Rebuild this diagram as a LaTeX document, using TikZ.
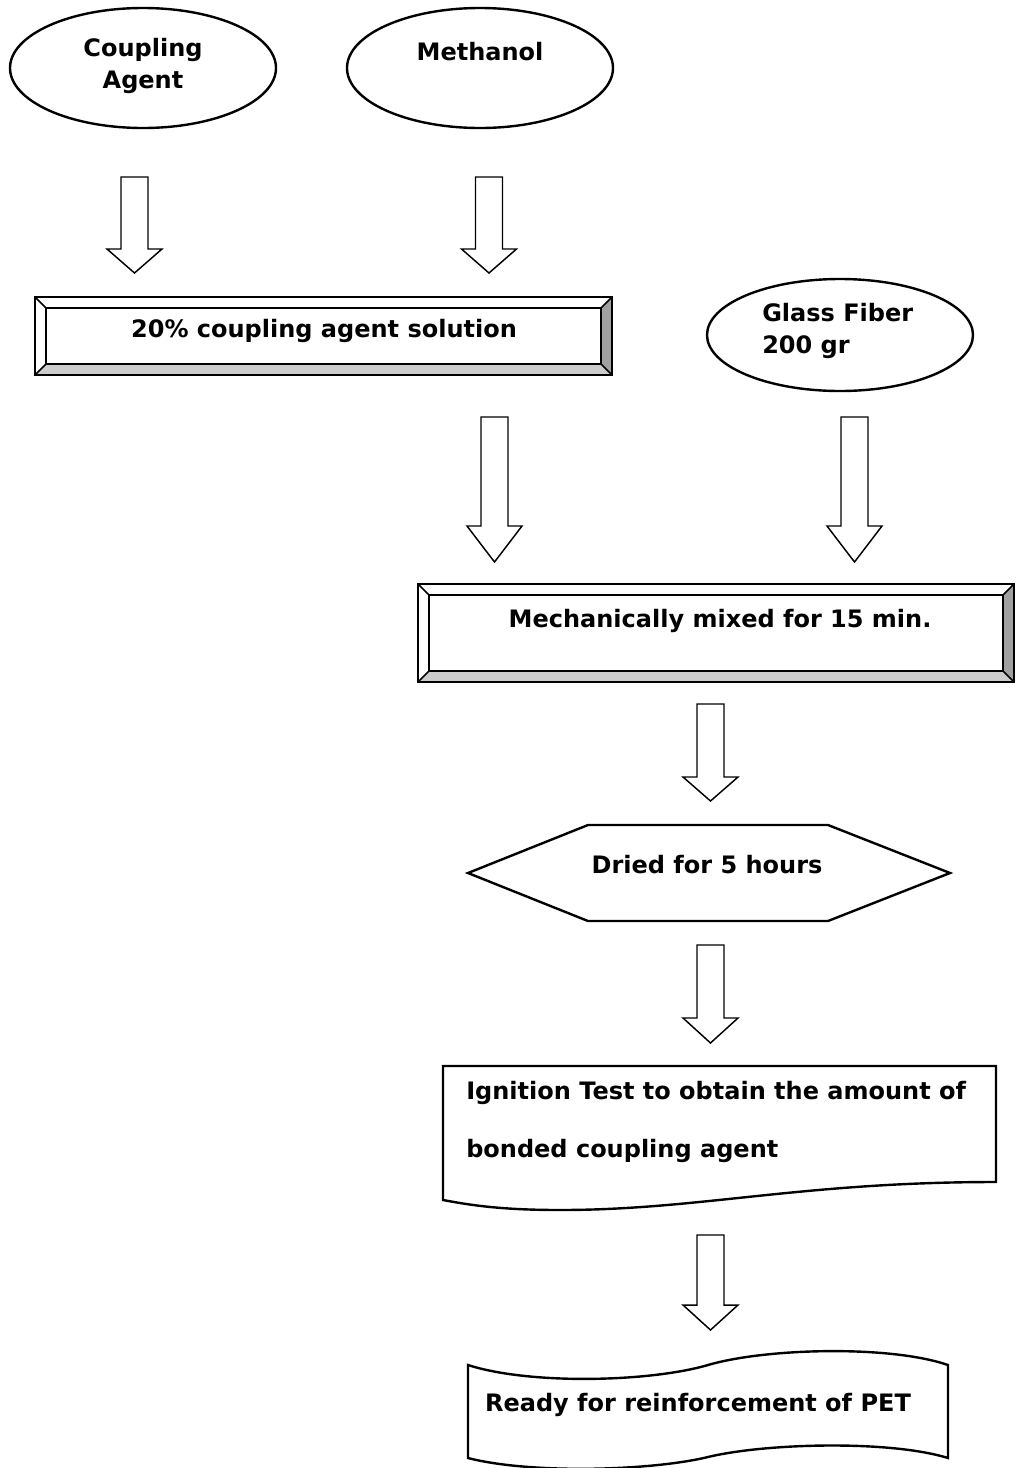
\documentclass[tikz,border=0pt]{standalone}
\usepackage{fontspec}
\setmainfont{DejaVu Sans}
\usetikzlibrary{shapes.geometric}
\definecolor{bevdark}{HTML}{A0A0A0}
\definecolor{bevlight}{HTML}{CCCCCC}
\newcommand\blkarrow[4]{%
  \draw[arrowline] (#1-13.5,#2) -- (#1+13.5,#2) -- (#1+13.5,#3) -- (#1+27.5,#3) -- (#1,#4) -- (#1-27.5,#3) -- (#1-13.5,#3) -- cycle;}
\newcommand\bevelbox[5]{%
  \fill[white] (#1,#2) rectangle (#3,#4);
  \fill[bevdark] (#3,#2) -- (#3,#4) -- (#3-#5,#4-#5) -- (#3-#5,#2+#5) -- cycle;
  \fill[bevlight] (#1,#4) -- (#3,#4) -- (#3-#5,#4-#5) -- (#1+#5,#4-#5) -- cycle;
  \draw[bevline] (#1+#5,#2+#5) rectangle (#3-#5,#4-#5);
  \draw[bevline] (#1,#2) -- (#1+#5,#2+#5) (#3,#2) -- (#3-#5,#2+#5) (#1,#4) -- (#1+#5,#4-#5) (#3,#4) -- (#3-#5,#4-#5);
  \draw[bevline] (#1,#2) rectangle (#3,#4);}
\begin{document}
\begin{tikzpicture}[x=0.75pt,y=-0.75pt,line join=miter,
  lbl/.style={font=\fontsize{18}{23.5}\selectfont\bfseries,inner sep=0pt},
  ell/.style={draw,ellipse,line width=1.8pt,inner sep=0pt},
  arrowline/.style={line width=1.1pt,fill=white},
  bevline/.style={line width=1.1pt},
  shapeline/.style={line width=1.8pt}]
\useasboundingbox[fill=white] (0,0) rectangle (1015,1468);

% ellipses
\node[ell,minimum width=199.5pt,minimum height=90pt] (ca) at (143,68) {};
\node[lbl,align=center] (catext) at (143,66) {Coupling\\Agent};
\node[ell,minimum width=199.5pt,minimum height=90pt] (me) at (480,68) {};
\node[lbl] (metext) at (480,52) {Methanol};
\node[ell,minimum width=199.5pt,minimum height=84pt] (gf) at (840,335) {};
\node[lbl,align=left,anchor=west] (gftext) at (762,331) {Glass Fiber\\200 gr};

% block arrows
\blkarrow{134.5}{177}{249}{273}
\blkarrow{489}{177}{249}{273}
\blkarrow{494.5}{417}{526}{562}
\blkarrow{854.5}{417}{526}{562}
\blkarrow{710.5}{704}{777}{801}
\blkarrow{710.5}{945}{1018}{1043}
\blkarrow{710.5}{1235}{1305}{1330}

% bevel boxes
\bevelbox{35}{297}{612}{375}{11}
\node[lbl] (sol) at (324,331) {20\% coupling agent solution};
\bevelbox{418}{584}{1014}{682}{11}
\node[lbl] (mix) at (720,621) {Mechanically mixed for 15 min.};

% hexagon
\draw[shapeline] (468,873) -- (588,825) -- (828,825) -- (950,873) -- (828,921) -- (588,921) -- cycle;
\node[lbl] (dry) at (707,865) {Dried for 5 hours};

% document shape
\draw[shapeline] (443,1066) -- (996,1066) -- (996,1182)
  .. controls (800,1182) and (700,1210) .. (560,1210)
  .. controls (500,1210) and (470,1205) .. (443,1200) -- cycle;
\node[lbl,anchor=west] (ign1) at (466,1093) {Ignition Test to obtain the amount of};
\node[lbl,anchor=west] (ign2) at (466,1151) {bonded coupling agent};

% punched tape
\draw[shapeline] (468,1365) .. controls (530,1385) and (650,1382) .. (708,1365)
  .. controls (766,1348) and (890,1345) .. (948,1365) -- (948,1458)
  .. controls (890,1440) and (766,1443) .. (708,1457)
  .. controls (650,1471) and (530,1474) .. (468,1458) -- cycle;
\node[lbl] (ready) at (698,1405) {Ready for reinforcement of PET};
\end{tikzpicture}
\end{document}
